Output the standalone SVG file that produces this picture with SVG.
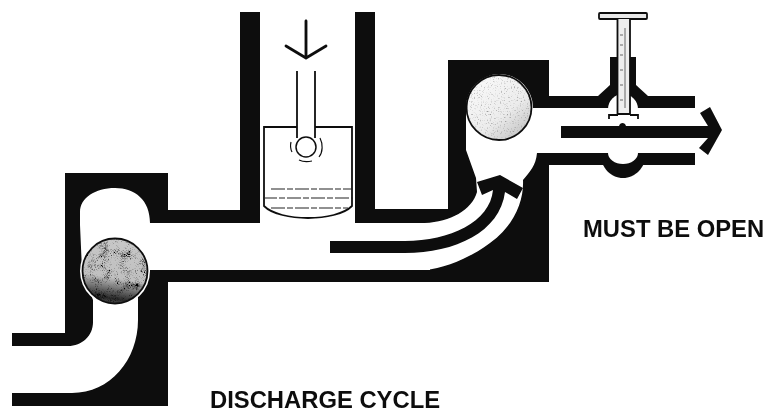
<svg xmlns="http://www.w3.org/2000/svg" width="767" height="414" viewBox="0 0 767 414">
<style>
.k{fill:#0b0b0b}
.w{fill:#fff}
.l{fill:none;stroke:#111;stroke-width:1.8}
.t{font-family:"Liberation Sans",Arial,sans-serif;font-weight:700;font-size:23.8px;fill:#111}
</style>
<defs>
<filter id="soft" x="0" y="0" width="100%" height="100%"><feGaussianBlur stdDeviation="0.5"/></filter>
<filter id="dark" x="-5%" y="-5%" width="110%" height="110%">
<feTurbulence type="fractalNoise" baseFrequency="0.1" numOctaves="2" seed="11" result="lo"/>
<feTurbulence type="fractalNoise" baseFrequency="0.85" numOctaves="2" seed="7" result="hi"/>
<feComposite in="lo" in2="hi" operator="arithmetic" k1="0" k2="0.6" k3="0.6" k4="0" result="mix"/>
<feColorMatrix in="mix" type="matrix" values="0 0 0 0 0 0 0 0 0 0 0 0 0 0 0 5 0 0 0 -2.5" result="m"/>
<feComposite in="m" in2="SourceGraphic" operator="in" result="c"/>
<feMerge><feMergeNode in="SourceGraphic"/><feMergeNode in="c"/></feMerge>
</filter>
<filter id="light" x="-5%" y="-5%" width="110%" height="110%">
<feTurbulence type="fractalNoise" baseFrequency="0.7" numOctaves="2" seed="3" result="n"/>
<feColorMatrix in="n" type="matrix" values="0 0 0 0 0.3 0 0 0 0 0.3 0 0 0 0 0.3 3 0 0 0 -1.7" result="m"/>
<feComposite in="m" in2="SourceGraphic" operator="in" result="c"/>
<feMerge><feMergeNode in="SourceGraphic"/><feMergeNode in="c"/></feMerge>
</filter>
<linearGradient id="gd" x1="0.55" y1="0" x2="0.4" y2="1"><stop offset="0" stop-color="#c8c8c8"/><stop offset="0.6" stop-color="#c0c0c0"/><stop offset="0.78" stop-color="#6a6a6a"/><stop offset="0.92" stop-color="#2a2a2a"/><stop offset="1" stop-color="#555"/></linearGradient>
<linearGradient id="gl" x1="0.1" y1="0" x2="0.9" y2="1"><stop offset="0" stop-color="#fbfbfb"/><stop offset="0.6" stop-color="#ececec"/><stop offset="1" stop-color="#bdbdbd"/></linearGradient>
</defs>
<rect width="767" height="414" fill="#fff"/>
<g filter="url(#soft)">
<g id="connectors">
<path id="body-left" class="k" d="M65 173H168V210H240V12H260V223H168V406H12V393H65V346H12V333H65Z"/>
<path id="body-right" class="k" d="M355 12H375V209H448V60H549V96H695V108H549V153H695V165H549V282H168V270H430V223H355Z"/>
<path id="channel-left" class="w" d="M80 225V212C80 198 95 188 115 188C135 188 150 200 150 223V270L138 295V320C138 360 110 393 72 393H0V346H68C82 346 93 336 93 322V300L82 270Z"/>
<path id="channel-main" class="w" d="M148 223H425C450 222 472 210 477 192L476 178L466 150V107A33.500 33.500 0 0 1 533 108H550V153H537C536 165 530 172 523 180C524 200 515 225 490 243C470 258 445 268 425 270H148Z"/>
<rect class="k" x="549" y="96" width="146" height="12" rx="2"/>
<rect class="k" x="549" y="153" width="146" height="12" rx="2"/>
<path id="flow-in" class="k" d="M330 241H405C450 241 490 222 493 190L482 195L477 182L500 175L523 188L517 199L505 192C500 232 455 253 405 253H330Z"/>
</g>
<g id="valve">
<path class="k" d="M610 57H636V85L648 96V108H598V96L610 85Z"/>
<path class="k" d="M600 153H647C645 168 635 178 623 178C611 178 601 168 600 153Z"/>
<path class="w" d="M608 109A15 15 0 0 1 638 109V114H608Z"/>
<path class="w" d="M608 153A15 11 0 0 0 638 153Z"/>
<rect x="599" y="13" width="48" height="6" rx="1" fill="#e8e8e8" stroke="#111" stroke-width="1.800"/>
<rect x="618" y="19" width="12" height="96" fill="#eee"/>
<path class="l" d="M617.500 19V114M630 19V114"/>
<path fill="none" stroke="#555" stroke-width="0.900" d="M620 35h3M620 45h3M620 55h3M620 70h3M620 85h3M620 100h3M625 28v80"/>
<path class="l" d="M609 119V115H618M630 115H638V119M618 114H630"/>
</g>
<g id="flow-out-arrow">
<path class="k" d="M561 126H619C620 122 625 122 626 126H708L700 113L710 107L722 130L708 155L699 148L708 138H561Z"/>
</g>
<g id="piston">
<path fill="#fff" stroke="#111" stroke-width="1.800" d="M297 127H264V206C280 222 336 222 352 206V127H315"/>
<path class="l" d="M297 71V138M315 71V138"/>
<path fill="none" stroke="#111" stroke-width="2.800" stroke-linecap="round" stroke-linejoin="round" d="M306 21V58M286 46L306 58L326 46"/>
<circle cx="306" cy="147" r="10" fill="#fff" stroke="#111" stroke-width="1.500"/>
<path fill="none" stroke="#111" stroke-width="1.200" d="M291 142C290 146 291 150 292 152M320 138C323 144 323 152 319 157M299 160C303 162 308 162 312 161"/>
<path fill="none" stroke="#222" stroke-width="1.200" stroke-dasharray="14 2 6 2" d="M271 189H352M263 198H353M271 208H348"/>
</g>
<g id="ball-left">
<circle cx="115" cy="271" r="35" fill="#fff"/>
<circle cx="115" cy="271" r="32.500" fill="url(#gd)" filter="url(#dark)"/>
<circle cx="115" cy="271" r="32.500" fill="none" stroke="#111" stroke-width="1.800"/>
</g>
<g id="ball-right">
<circle cx="499" cy="107.500" r="32.500" fill="url(#gl)" filter="url(#light)"/>
<circle cx="499" cy="107.500" r="32.500" fill="none" stroke="#111" stroke-width="1.800"/>
</g>
<text class="t" x="583" y="237">MUST BE OPEN</text>
<text class="t" x="210" y="408">DISCHARGE CYCLE</text>
</g>
</svg>
